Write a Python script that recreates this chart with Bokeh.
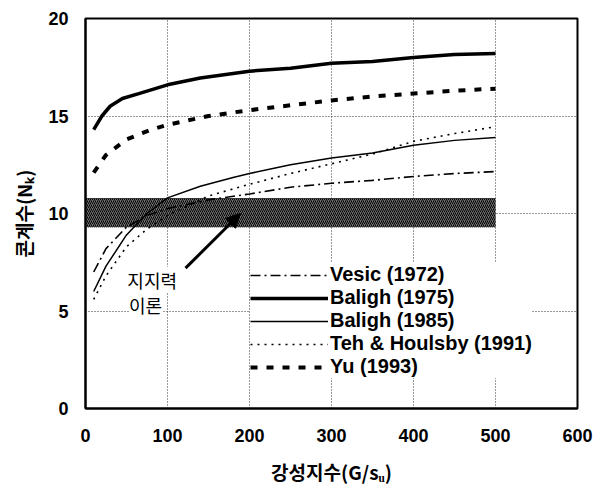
from bokeh.plotting import figure
from bokeh.models import Range1d, Label, Arrow, NormalHead, FixedTicker, Legend, LegendItem
from bokeh.embed import file_html
from bokeh.resources import INLINE

# Data
vesic_x = [10, 25, 50, 75, 100, 150, 200, 250, 300, 350, 400, 450, 500]
vesic_y = [7.0, 8.2, 9.3, 9.9, 10.25, 10.7, 11.0, 11.35, 11.55, 11.7, 11.9, 12.05, 12.15]

baligh75_x = [10, 20, 30, 45, 65, 100, 140, 200, 250, 300, 350, 400, 450, 500]
baligh75_y = [14.3, 15.0, 15.5, 15.9, 16.15, 16.6, 16.95, 17.3, 17.45, 17.7, 17.8, 18.0, 18.15, 18.2]

baligh85_x = [10, 25, 50, 75, 100, 140, 180, 200, 250, 300, 350, 400, 450, 500]
baligh85_y = [6.0, 7.3, 8.9, 10.0, 10.8, 11.4, 11.85, 12.05, 12.5, 12.85, 13.1, 13.5, 13.75, 13.9]

teh_x = [10, 25, 50, 75, 100, 150, 200, 250, 300, 350, 400, 450, 500]
teh_y = [5.6, 6.8, 8.3, 9.2, 9.9, 10.9, 11.5, 12.05, 12.55, 13.05, 13.7, 14.1, 14.45]

yu_x = [10, 25, 50, 80, 100, 150, 200, 250, 300, 350, 400, 450, 500]
yu_y = [12.1, 13.0, 13.8, 14.3, 14.55, 15.0, 15.3, 15.55, 15.8, 16.0, 16.15, 16.3, 16.4]

band_x = [0, 500]
band_y = [9.3, 10.8]

x_ticks = [0, 100, 200, 300, 400, 500, 600]
y_ticks = [0, 5, 10, 15, 20]

labels = ["Vesic (1972)", "Baligh (1975)", "Baligh (1985)", "Teh & Houlsby (1991)", "Yu (1993)"]

p = figure(width=598, height=495, output_backend="svg", toolbar_location=None,
           x_range=Range1d(0, 600), y_range=Range1d(0, 20),
           min_border_left=85, min_border_right=21, min_border_top=18, min_border_bottom=87)
p.background_fill_color = "white"
p.border_fill_color = "white"
p.outline_line_color = "black"
p.outline_line_width = 2

# grid
p.xgrid.ticker = FixedTicker(ticks=[100, 200, 300, 400, 500])
p.ygrid.ticker = FixedTicker(ticks=[5, 10, 15])
for g in (p.xgrid, p.ygrid):
    g.grid_line_color = "#333333"
    g.grid_line_dash = "1 2"
    g.grid_line_width = 1

# axes
for ax in (p.xaxis, p.yaxis):
    ax.axis_line_color = "black"
    ax.axis_line_width = 2
    ax.major_tick_line_color = None
    ax.minor_tick_line_color = None
    ax.major_tick_out = 0
    ax.major_tick_in = 0
    ax.major_label_text_font = "Liberation Sans"
    ax.major_label_text_font_style = "bold"
    ax.major_label_text_font_size = "18px"
    ax.major_label_text_color = "black"
    ax.axis_label_text_font = "Noto Sans CJK KR"
    ax.axis_label_text_font_style = "bold"
    ax.axis_label_text_font_size = "19px"
    ax.axis_label_text_color = "black"
p.xaxis.ticker = FixedTicker(ticks=x_ticks)
p.yaxis.ticker = FixedTicker(ticks=y_ticks)
p.xaxis.major_label_standoff = 20
p.yaxis.major_label_standoff = 17
p.xaxis.axis_label = "강성지수(G/sᵤ)"
p.yaxis.axis_label = "콘계수(Nₖ)"
p.xaxis.axis_label_standoff = 13
p.yaxis.axis_label_standoff = 8

# hatched band
p.quad(left=[band_x[0]], right=[band_x[1]], bottom=[band_y[0]], top=[band_y[1]],
       fill_color="#6e6e6e", fill_alpha=1.0, line_color=None,
       hatch_pattern="right_diagonal_line", hatch_color="black", hatch_scale=4, hatch_weight=1)

r1 = p.line(vesic_x, vesic_y, line_color="black", line_width=1.6, line_dash="10 4 2 4")
r2 = p.line(baligh75_x, baligh75_y, line_color="black", line_width=3.5)
r3 = p.line(baligh85_x, baligh85_y, line_color="black", line_width=1.5)
r4 = p.line(teh_x, teh_y, line_color="black", line_width=1.6, line_dash="2 5")
r5 = p.line(yu_x, yu_y, line_color="black", line_width=4, line_dash="7 9")

legend = Legend(items=[LegendItem(label=l, renderers=[r]) for l, r in zip(labels, [r1, r2, r3, r4, r5])],
                location=(165, 30))
legend.label_text_font = "Liberation Sans"
legend.label_text_font_style = "bold"
legend.label_text_font_size = "20px"
legend.label_text_color = "black"
legend.glyph_width = 78
legend.glyph_height = 20
legend.label_height = 20
legend.label_standoff = 2
legend.spacing = 0
legend.padding = 6
legend.margin = 0
legend.border_line_color = None
legend.background_fill_color = "white"
legend.background_fill_alpha = 1.0
p.add_layout(legend)

# annotation
lab1 = Label(x=51, y=6.6, text="지지력", text_font="Noto Sans CJK KR", text_font_size="18px",
             text_color="black", text_baseline="middle", text_align="left",
             background_fill_color="white")
lab2 = Label(x=53, y=5.3, text="이론", text_font="Noto Sans CJK KR", text_font_size="18px",
             text_color="black", text_baseline="middle", text_align="left",
             background_fill_color="white")
p.add_layout(lab1)
p.add_layout(lab2)
p.add_layout(Arrow(x_start=122, y_start=7.2, x_end=189, y_end=10.0, line_color="black", line_width=3,
                   end=NormalHead(size=14, fill_color="black", line_color="black")))

open("out.html", "w").write(file_html(p, INLINE))
